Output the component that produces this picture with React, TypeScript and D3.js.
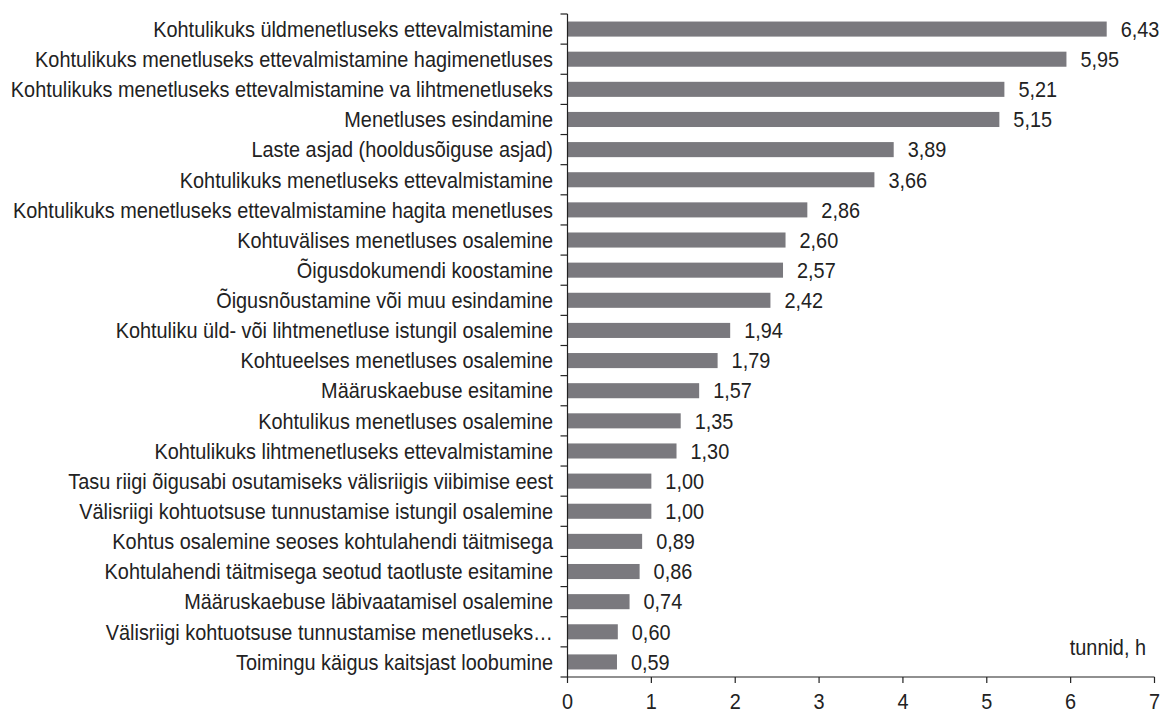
import React from "react";
import * as d3 from "d3";

const categories = [
  "Kohtulikuks üldmenetluseks ettevalmistamine",
  "Kohtulikuks menetluseks ettevalmistamine hagimenetluses",
  "Kohtulikuks menetluseks ettevalmistamine va lihtmenetluseks",
  "Menetluses esindamine",
  "Laste asjad (hooldusõiguse asjad)",
  "Kohtulikuks menetluseks ettevalmistamine",
  "Kohtulikuks menetluseks ettevalmistamine hagita menetluses",
  "Kohtuvälises menetluses osalemine",
  "Õigusdokumendi koostamine",
  "Õigusnõustamine või muu esindamine",
  "Kohtuliku üld- või lihtmenetluse istungil osalemine",
  "Kohtueelses menetluses osalemine",
  "Määruskaebuse esitamine",
  "Kohtulikus menetluses osalemine",
  "Kohtulikuks lihtmenetluseks ettevalmistamine",
  "Tasu riigi õigusabi osutamiseks välisriigis viibimise eest",
  "Välisriigi kohtuotsuse tunnustamise istungil osalemine",
  "Kohtus osalemine seoses kohtulahendi täitmisega",
  "Kohtulahendi täitmisega seotud taotluste esitamine",
  "Määruskaebuse läbivaatamisel osalemine",
  "Välisriigi kohtuotsuse tunnustamise menetluseks…",
  "Toimingu käigus kaitsjast loobumine",
];
const values = [6.43, 5.95, 5.21, 5.15, 3.89, 3.66, 2.86, 2.6, 2.57, 2.42, 1.94, 1.79, 1.57, 1.35, 1.3, 1.0, 1.0, 0.89, 0.86, 0.74, 0.6, 0.59];
const xTicks = [0, 1, 2, 3, 4, 5, 6, 7];
const unitLabel = "tunnid, h";

const W = 1165;
const H = 713;
const left = 567.5;
const right = 1154.5;
const top = 14;
const bottom = 677;
const FONT = "'Liberation Sans', Arial, sans-serif";
const TXT = "#222";
const FS = 21.5;
const SX = 0.925;

function T({ x, y, anchor, children }: { x: number; y: number; anchor?: string; children: React.ReactNode }) {
  return (
    <text transform={`translate(${x},${y}) scale(${SX},1)`} dy="0.36em" fontSize={FS} textAnchor={anchor || "start"}>
      {children}
    </text>
  );
}

export default function App() {
  const x = d3.scaleLinear().domain([0, 7]).range([left, right]);
  const y = d3.scaleBand<number>().domain(d3.range(categories.length)).range([top, bottom]).paddingInner(0.5).paddingOuter(0.25);
  const fmt = (v: number) => v.toFixed(2).replace(".", ",");
  const step = (bottom - top) / categories.length;
  return (
    <svg width={W} height={H} style={{ position: "absolute", left: 0, top: 0, background: "#fff" }}>
      <g fontFamily={FONT} fill={TXT}>
        {values.map((v, i) => (
          <g key={i}>
            <rect x={x(0)} y={y(i)!} width={x(v) - x(0)} height={y.bandwidth()} fill="#7a797e" />
            <T x={x(v) + 14} y={y(i)! + y.bandwidth() / 2}>{fmt(v)}</T>
            <T x={553} y={y(i)! + y.bandwidth() / 2} anchor="end">{categories[i]}</T>
          </g>
        ))}
        <line x1={left} x2={left} y1={top} y2={bottom} stroke="#222" strokeWidth={1.2} />
        {d3.range(categories.length + 1).map((i) => (
          <line key={i} x1={left - 7} x2={left} y1={top + i * step} y2={top + i * step} stroke="#222" strokeWidth={1.2} />
        ))}
        <line x1={left} x2={right} y1={bottom} y2={bottom} stroke="#222" strokeWidth={1.2} />
        {xTicks.map((t) => (
          <g key={t}>
            <line x1={x(t)} x2={x(t)} y1={bottom} y2={bottom + 6} stroke="#222" strokeWidth={1.2} />
            <T x={x(t)} y={701} anchor="middle">{t}</T>
          </g>
        ))}
        <T x={1146} y={647} anchor="end">{unitLabel}</T>
      </g>
    </svg>
  );
}
